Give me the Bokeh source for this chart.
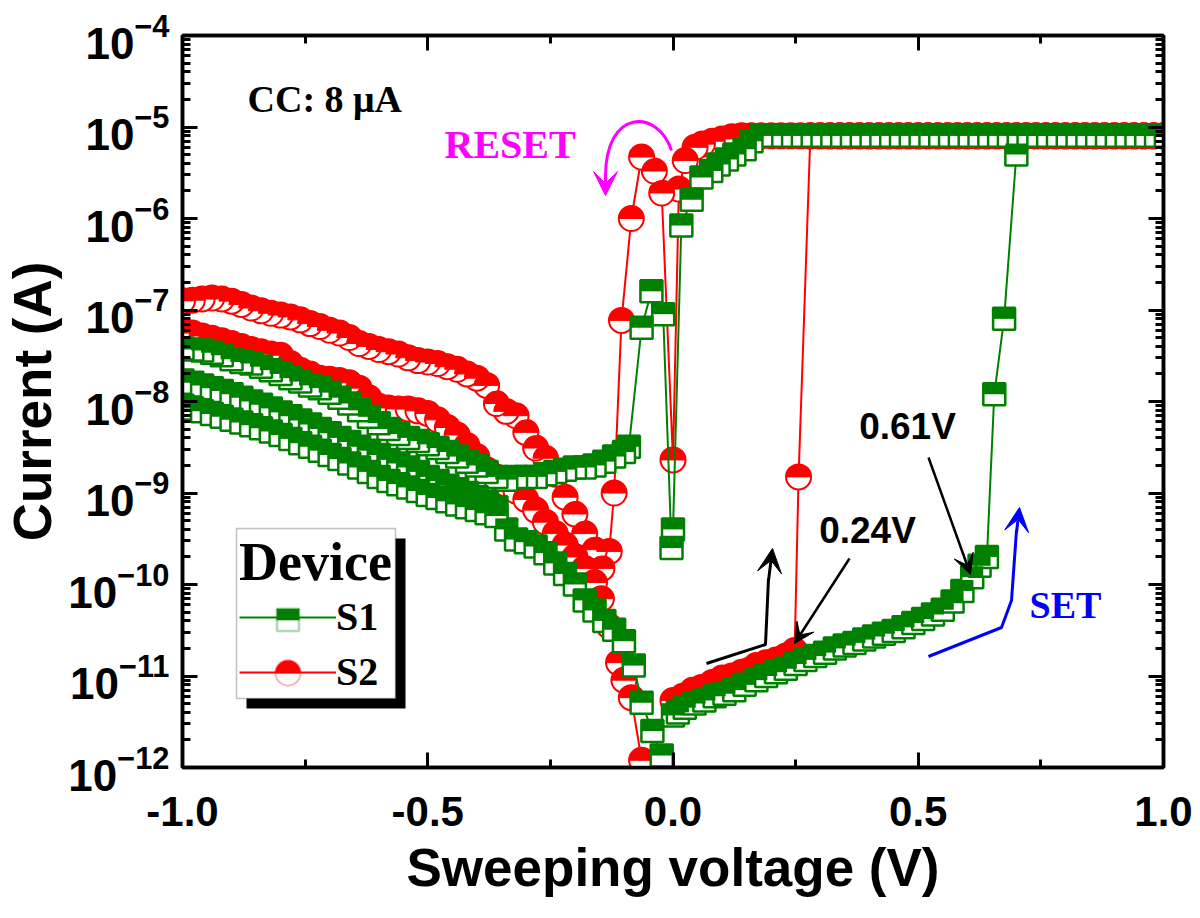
import numpy as np
from bokeh.plotting import figure
from bokeh.models import (Range1d, LinearAxis, LogAxis, FixedTicker, NumeralTickFormatter,
                          Legend, LegendItem, Label, Arrow, VeeHead, BoxAnnotation, PolyAnnotation)
from bokeh.embed import file_html
from bokeh.resources import INLINE

GREEN = "#008000"
RED = "#FF0000"
MAGENTA = "#FF00FF"
BLUE = "#0000FF"
NAN = float("nan")

# ---------------- data ----------------
# Device S1 : positive forward sweep 0 -> 1 V
s1_pos_fwd_v = [0.000, 0.010, 0.024, 0.044, 0.064, 0.085, 0.105, 0.125, 0.146,
                0.170, 0.190, 0.210, 0.230, 0.250, 0.270, 0.290, 0.310, 0.330, 0.350, 0.370,
                0.390, 0.410, 0.430, 0.450, 0.470, 0.490, 0.510, 0.530, 0.550, 0.570, 0.590, 0.610,
                0.625, 0.640, 0.655, 0.675, 0.700,
                0.720, 0.740, 0.760, 0.780, 0.800, 0.820, 0.840, 0.860, 0.880, 0.900, 0.920,
                0.940, 0.960, 0.980, 1.000]
s1_pos_fwd_i = [3.7e-12, 4.0e-12, 4.5e-12, 5.0e-12, 5.4e-12, 6.0e-12, 6.4e-12, 7.0e-12, 8.0e-12,
                9.0e-12, 1.0e-11, 1.1e-11, 1.2e-11, 1.35e-11, 1.5e-11, 1.65e-11, 1.8e-11, 2.0e-11,
                2.15e-11, 2.3e-11, 2.5e-11, 2.7e-11, 2.9e-11, 3.1e-11, 3.4e-11, 3.8e-11, 4.2e-11,
                4.7e-11, 5.3e-11, 6.5e-11, 8.5e-11, 1.2e-10,
                1.6e-10, 2.0e-10, 1.2e-8, 8.0e-8, 5.0e-6,
                8e-6, 8e-6, 8e-6, 8e-6, 8e-6, 8e-6, 8e-6, 8e-6, 8e-6, 8e-6, 8e-6, 8e-6,
                8e-6, 8e-6, 8e-6]
# S1 : positive backward sweep 1 -> 0 V
s1_pos_bwd_v = [1.00, 0.98, 0.96, 0.94, 0.92, 0.90, 0.88, 0.86, 0.84, 0.82, 0.80, 0.78, 0.76, 0.74,
                0.72, 0.70, 0.68, 0.66, 0.64, 0.62, 0.60, 0.58, 0.56, 0.54, 0.52, 0.50, 0.48, 0.46,
                0.44, 0.42, 0.40, 0.38, 0.36, 0.34, 0.32, 0.30, 0.28, 0.26, 0.24, 0.22, 0.20, 0.18,
                0.160, 0.146, 0.125, 0.110, 0.093, 0.078, 0.058, 0.038, 0.017, 0.000]
s1_pos_bwd_i = [8e-6, 8e-6, 8e-6, 8e-6, 8e-6, 8e-6, 8e-6, 8e-6, 8e-6, 8e-6, 8e-6, 8e-6, 8e-6, 8e-6,
                8e-6, 8e-6, 8e-6, 8e-6, 8e-6, 8e-6, 8e-6, 8e-6, 8e-6, 8e-6, 8e-6, 8e-6, 8e-6, 8e-6,
                8e-6, 8e-6, 8e-6, 8e-6, 8e-6, 8e-6, 8e-6, 8e-6, 8e-6, 8e-6, 8e-6, 8e-6, 8e-6, 8e-6,
                7.0e-6, 5.7e-6, 5.0e-6, 4.4e-6, 3.9e-6, 3.3e-6, 2.8e-6, 1.6e-6, 8.4e-7, 4.0e-10]
# S1 : negative forward sweep 0 -> -1 V (RESET)
s1_neg_fwd_v = [-0.003, -0.020, -0.044, -0.064, -0.090,
                -0.10, -0.12, -0.14, -0.16, -0.18, -0.20, -0.22, -0.24, -0.26, -0.28,
                -0.30, -0.32, -0.34, -0.36, -0.38, -0.40, -0.42, -0.44, -0.46, -0.48,
                -0.50, -0.52, -0.54, -0.56, -0.58, -0.60, -0.62, -0.64, -0.66, -0.68,
                -0.70, -0.72, -0.74, -0.76, -0.78, -0.80, -0.82, -0.84, -0.86, -0.88,
                -0.90, -0.92, -0.94, -0.96, -0.98, -1.00]
s1_neg_fwd_i = [2.5e-10, 9.0e-8, 1.6e-7, 6.4e-8, 3.2e-9,
                2.8e-9, 2.5e-9, 2.2e-9, 2.0e-9, 1.9e-9, 1.9e-9, 1.8e-9, 1.7e-9, 1.6e-9, 1.5e-9,
                1.5e-9, 1.5e-9, 1.4e-9, 1.5e-9, 1.7e-9, 2.0e-9, 2.2e-9, 2.5e-9, 2.8e-9, 3.1e-9,
                3.4e-9, 3.7e-9, 4.0e-9, 4.4e-9, 5.0e-9, 5.8e-9, 6.8e-9, 8.0e-9, 9.5e-9, 1.1e-8,
                1.25e-8, 1.4e-8, 1.5e-8, 1.65e-8, 1.8e-8, 2.0e-8, 2.2e-8, 2.4e-8, 2.6e-8, 2.7e-8,
                2.9e-8, 3.2e-8, 3.4e-8, 3.6e-8, 3.7e-8, 3.8e-8]
# S1 : negative backward sweep -1 -> 0 V
s1_neg_bwd_v = [-1.00, -0.98, -0.96, -0.94, -0.92, -0.90, -0.88, -0.86, -0.84, -0.82,
                -0.80, -0.78, -0.76, -0.74, -0.72, -0.70, -0.68, -0.66, -0.64, -0.62,
                -0.60, -0.58, -0.56, -0.54, -0.52, -0.50, -0.48, -0.46, -0.44, -0.42,
                -0.40, -0.38, -0.36, -0.34, -0.32, -0.30, -0.28, -0.26, -0.24, -0.22,
                -0.20, -0.18, -0.16, -0.14, -0.12, -0.10, -0.08, -0.064, -0.042, -0.023]
s1_neg_bwd_i = [1.7e-8, 1.6e-8, 1.5e-8, 1.4e-8, 1.3e-8, 1.2e-8, 1.1e-8, 1.0e-8, 9.2e-9, 8.4e-9,
                7.6e-9, 6.9e-9, 6.2e-9, 5.6e-9, 5.0e-9, 4.5e-9, 4.0e-9, 3.6e-9, 3.2e-9, 2.9e-9,
                2.6e-9, 2.3e-9, 2.1e-9, 1.9e-9, 1.7e-9, 1.5e-9, 1.35e-9, 1.2e-9, 1.1e-9, 1.0e-9,
                9.0e-10, 8.0e-10, 7.0e-10, 4.0e-10, 3.1e-10, 2.9e-10, 2.6e-10, 2.2e-10, 1.7e-10, 1.3e-10,
                1.0e-10, 6.7e-11, 5.2e-11, 4.0e-11, 3.2e-11, 2.4e-11, 1.3e-11, 5.1e-12, 2.5e-12, 1.35e-12]
# S1 : second negative-branch trace
s1_neg_b2_v = [-1.00, -0.98, -0.96, -0.94, -0.92, -0.90, -0.88, -0.86, -0.84, -0.82,
               -0.80, -0.78, -0.76, -0.74, -0.72, -0.70, -0.68, -0.66, -0.64, -0.62,
               -0.60, -0.58, -0.56, -0.54, -0.52, -0.50, -0.48, -0.46, -0.44, -0.42,
               -0.40, -0.38, -0.36]
s1_neg_b2_i = [9.0e-9, 8.4e-9, 7.8e-9, 7.3e-9, 6.8e-9, 6.3e-9, 5.9e-9, 5.5e-9, 5.1e-9, 4.7e-9,
               4.3e-9, 3.9e-9, 3.5e-9, 3.2e-9, 2.9e-9, 2.6e-9, 2.35e-9, 2.1e-9, 1.9e-9, 1.7e-9,
               1.5e-9, 1.35e-9, 1.25e-9, 1.15e-9, 1.05e-9, 9.5e-10, 8.8e-10, 8.1e-10, 7.5e-10, 7.0e-10,
               6.5e-10, 6.0e-10, 5.6e-10]

# Device S2 : positive forward sweep 0 -> 1 V
s2_pos_fwd_v = [0.000, 0.020, 0.040, 0.058, 0.080, 0.100, 0.120, 0.140, 0.154, 0.170, 0.190,
                0.210, 0.230, 0.248, 0.256,
                0.28, 0.30, 0.32, 0.34, 0.36, 0.38, 0.40, 0.42, 0.44, 0.46, 0.48, 0.50, 0.52,
                0.54, 0.56, 0.58, 0.60, 0.62, 0.64, 0.66, 0.68, 0.70, 0.72, 0.74, 0.76, 0.78,
                0.80, 0.82, 0.84, 0.86, 0.88, 0.90, 0.92, 0.94, 0.96, 0.98, 1.00]
s2_pos_fwd_i = [5.4e-12, 6.0e-12, 7.0e-12, 7.5e-12, 8.5e-12, 9.5e-12, 1.0e-11, 1.1e-11, 1.15e-11,
                1.3e-11, 1.4e-11, 1.5e-11, 1.65e-11, 1.9e-11, 1.5e-9,
                8e-6, 8e-6, 8e-6, 8e-6, 8e-6, 8e-6, 8e-6, 8e-6, 8e-6, 8e-6, 8e-6, 8e-6, 8e-6,
                8e-6, 8e-6, 8e-6, 8e-6, 8e-6, 8e-6, 8e-6, 8e-6, 8e-6, 8e-6, 8e-6, 8e-6, 8e-6,
                8e-6, 8e-6, 8e-6, 8e-6, 8e-6, 8e-6, 8e-6, 8e-6, 8e-6, 8e-6, 8e-6]
# S2 : positive backward sweep 1 -> 0 V
s2_pos_bwd_v = [1.00, 0.98, 0.96, 0.94, 0.92, 0.90, 0.88, 0.86, 0.84, 0.82, 0.80, 0.78, 0.76, 0.74,
                0.72, 0.70, 0.68, 0.66, 0.64, 0.62, 0.60, 0.58, 0.56, 0.54, 0.52, 0.50, 0.48, 0.46,
                0.44, 0.42, 0.40, 0.38, 0.36, 0.34, 0.32, 0.30, 0.28, 0.26, 0.24, 0.22, 0.20, 0.18,
                0.16, 0.14, 0.120, 0.100, 0.080, 0.060, 0.045, 0.025, 0.012, 0.000]
s2_pos_bwd_i = [8e-6, 8e-6, 8e-6, 8e-6, 8e-6, 8e-6, 8e-6, 8e-6, 8e-6, 8e-6, 8e-6, 8e-6, 8e-6, 8e-6,
                8e-6, 8e-6, 8e-6, 8e-6, 8e-6, 8e-6, 8e-6, 8e-6, 8e-6, 8e-6, 8e-6, 8e-6, 8e-6, 8e-6,
                8e-6, 8e-6, 8e-6, 8e-6, 8e-6, 8e-6, 8e-6, 8e-6, 8e-6, 8e-6, 8e-6, 8e-6, 8e-6, 8e-6,
                8e-6, 8e-6, 7.8e-6, 7.4e-6, 7.0e-6, 6.5e-6, 6.0e-6, 4.3e-6, 2.1e-6, 2.3e-9]
# S2 : negative forward sweep 0 -> -1 V (RESET)
s2_neg_fwd_v = [-0.023, -0.038, -0.064, -0.085, -0.105, -0.120, -0.130, -0.145, -0.160, -0.180,
                -0.200, -0.220,
                -0.24, -0.26, -0.28, -0.30, -0.32, -0.34, -0.36, -0.38, -0.40, -0.42,
                -0.44, -0.46, -0.48, -0.50, -0.52, -0.54, -0.56, -0.58, -0.60, -0.62,
                -0.64, -0.66, -0.68, -0.70, -0.72, -0.74, -0.76, -0.78, -0.80, -0.82,
                -0.84, -0.86, -0.88, -0.90, -0.92, -0.94, -0.96, -0.98, -1.00]
s2_neg_fwd_i = [1.9e-6, 3.3e-6, 4.7e-6, 1.0e-6, 7.7e-8, 1.0e-9, 2.3e-10, 1.5e-10, 2.4e-10, 3.6e-10,
                5.9e-10, 9.0e-10,
                1.6e-9, 2.4e-9, 3.1e-9, 4.6e-9, 7.0e-9, 7.8e-9, 9.5e-9, 1.5e-8, 1.8e-8, 2.0e-8,
                2.25e-8, 2.4e-8, 2.6e-8, 2.7e-8, 2.8e-8, 3.0e-8, 3.3e-8, 3.5e-8, 3.7e-8, 4.0e-8,
                4.3e-8, 5.0e-8, 5.6e-8, 6.0e-8, 6.6e-8, 7.1e-8, 7.8e-8, 8.4e-8, 8.8e-8, 9.2e-8,
                9.8e-8, 1.05e-7, 1.15e-7, 1.25e-7, 1.32e-7, 1.35e-7, 1.32e-7, 1.28e-7, 1.26e-7]
# S2 : negative backward sweep -1 -> 0 V
s2_neg_bwd_v = [-1.00, -0.98, -0.96, -0.94, -0.92, -0.90, -0.88, -0.86, -0.84, -0.82,
                -0.80, -0.78, -0.76, -0.74, -0.72, -0.70, -0.68, -0.66, -0.64, -0.62,
                -0.60, -0.58, -0.56, -0.54, -0.52, -0.50, -0.48, -0.46, -0.44, -0.42,
                -0.40, -0.38, -0.36, -0.34, -0.32, -0.30, -0.28, -0.26, -0.24, -0.22,
                -0.20, -0.18, -0.16, -0.146, -0.130, -0.111, -0.100, -0.085, -0.064]
s2_neg_bwd_i = [6.0e-8, 5.6e-8, 5.2e-8, 4.9e-8, 4.6e-8, 4.3e-8, 4.0e-8, 3.7e-8, 3.5e-8, 3.3e-8,
                3.2e-8, 2.6e-8, 2.2e-8, 2.0e-8, 1.8e-8, 1.75e-8, 1.7e-8, 1.6e-8, 1.4e-8, 1.1e-8,
                8.9e-9, 8.5e-9, 8.3e-9, 8.3e-9, 7.9e-9, 7.4e-9, 6.3e-9, 5.2e-9, 4.3e-9, 3.3e-9,
                2.5e-9, 1.8e-9, 1.5e-9, 1.25e-9, 1.05e-9, 8.5e-10, 6.5e-10, 4.8e-10, 3.6e-10, 2.7e-10,
                2.0e-10, 1.5e-10, 1.05e-10, 7.0e-11, 3.5e-11, 1.4e-11, 9.0e-12, 5.8e-12, 1.2e-12]

x_major = [-1.0, -0.5, 0.0, 0.5, 1.0]
x_minor = [-0.75, -0.25, 0.25, 0.75]
y_exponents = [-12, -11, -10, -9, -8, -7, -6, -5, -4]
y_mantissas = [2, 3, 4, 5, 6, 7, 8, 9]

s1_v = s1_pos_fwd_v + s1_pos_bwd_v + s1_neg_fwd_v + s1_neg_bwd_v + [NAN] + s1_neg_b2_v
s1_i = s1_pos_fwd_i + s1_pos_bwd_i + s1_neg_fwd_i + s1_neg_bwd_i + [NAN] + s1_neg_b2_i
s2_v = s2_pos_fwd_v + s2_pos_bwd_v + s2_neg_fwd_v + s2_neg_bwd_v
s2_i = s2_pos_fwd_i + s2_pos_bwd_i + s2_neg_fwd_i + s2_neg_bwd_i

# ---------------- figure ----------------
FW, FH = 981, 732
PX0, PY0 = 181, 35          # page position of the frame's top-left corner


def dx(px):   # page pixel -> data x (annotation placement only)
    return -1.0 + 2.0 * (px - PX0) / FW


def dy(py):   # page pixel -> data y (log)
    return 10 ** (-12 + 8.0 * (PY0 + FH - py) / FH)


p = figure(frame_width=FW, frame_height=FH,
           x_range=Range1d(-1, 1), y_range=Range1d(1e-12, 1e-4),
           y_axis_type="log", output_backend="svg", toolbar_location=None,
           min_border_left=173, min_border_top=35, min_border_right=30, min_border_bottom=125,
           background_fill_color="white", border_fill_color="white")
p.grid.visible = False
p.outline_line_color = "black"
p.outline_line_width = 3.5

y_minor = [m * 10.0 ** e for e in y_exponents[:-1] for m in y_mantissas]
y_major = [10.0 ** e for e in y_exponents]


def style_axis(ax, labels=True):
    ax.axis_line_width = 3.5
    ax.axis_line_color = "black"
    ax.major_tick_in = 15
    ax.major_tick_out = 0
    ax.minor_tick_in = 8
    ax.minor_tick_out = 0
    ax.major_tick_line_width = 3
    ax.minor_tick_line_width = 3
    ax.major_label_text_font = "Liberation Sans"
    ax.major_label_text_font_style = "bold"
    ax.major_label_text_color = "black"
    ax.axis_label_text_color = "black"
    if not labels:
        ax.major_label_text_font_size = "0px"
        ax.major_label_text_alpha = 0


xa = p.xaxis[0]
xa.ticker = FixedTicker(ticks=x_major, minor_ticks=x_minor)
xa.formatter = NumeralTickFormatter(format="0.0")
style_axis(xa)
xa.major_label_text_font_size = "42px"
xa.major_label_standoff = 29
xa.axis_label = "Sweeping voltage (V)"
xa.axis_label_text_font = "Liberation Sans"
xa.axis_label_text_font_style = "bold"
xa.axis_label_text_font_size = "53px"
xa.axis_label_standoff = 9

ya = p.yaxis[0]
ya.ticker = FixedTicker(ticks=y_major, minor_ticks=y_minor)
style_axis(ya)
ya.major_label_text_font_size = "44px"
ya.major_label_standoff = 13
ya.axis_label = "Current (A)"
ya.axis_label_text_font = "Liberation Sans"
ya.axis_label_text_font_style = "bold"
ya.axis_label_text_font_size = "53px"
ya.axis_label_standoff = 3

top = LinearAxis(ticker=FixedTicker(ticks=x_major, minor_ticks=x_minor))
style_axis(top, labels=False)
p.add_layout(top, "above")
right = LogAxis(ticker=FixedTicker(ticks=y_major, minor_ticks=y_minor))
style_axis(right, labels=False)
p.add_layout(right, "right")

# ---------------- series (S2 first, S1 drawn over it) ----------------
s2_line = p.line(s2_v, s2_i, line_color=RED, line_width=2)
p.scatter(s2_v, s2_i, marker="circle", size=25, fill_color="white", line_color=RED, line_width=2)
p.wedge(s2_v, s2_i, radius=12.5, radius_units="screen", start_angle=0, end_angle=np.pi,
        fill_color=RED, line_color=RED, line_width=1)

s1_line = p.line(s1_v, s1_i, line_color=GREEN, line_width=2)
p.scatter(s1_v, s1_i, marker="square", size=22, fill_color="white", line_color=GREEN, line_width=2.5)
p.ray(s1_v, s1_i, length=11, length_units="screen", angle=np.pi / 2,
      line_color=GREEN, line_width=22)

# ---------------- legend ----------------
# box + drop shadow + half-filled symbols (drawn underneath the transparent legend)
p.add_layout(BoxAnnotation(left=dx(245), right=dx(404), top=dy(538), bottom=dy(708),
                           fill_color="black", fill_alpha=1.0, line_alpha=0))
p.add_layout(BoxAnnotation(left=dx(235), right=dx(394), top=dy(528), bottom=dy(698),
                           fill_color="white", fill_alpha=1.0, line_color="#333333", line_width=1.5))
LGX, LG1, LG2 = 286.5, 619.5, 672.5
p.add_layout(BoxAnnotation(left=dx(LGX - 11), right=dx(LGX + 11), top=dy(LG1 - 11), bottom=dy(LG1 + 11),
                           fill_color="white", fill_alpha=1.0, line_color=GREEN, line_width=2.5))
p.add_layout(BoxAnnotation(left=dx(LGX - 11), right=dx(LGX + 11), top=dy(LG1 - 11), bottom=dy(LG1),
                           fill_color=GREEN, fill_alpha=1.0, line_color=GREEN, line_width=2.5))
ang_full = np.linspace(0, 2 * np.pi, 61)
ang_half = np.linspace(0, np.pi, 31)
p.add_layout(PolyAnnotation(xs=[dx(LGX + 12.5 * np.cos(t)) for t in ang_full],
                            ys=[dy(LG2 - 12.5 * np.sin(t)) for t in ang_full],
                            fill_color="white", fill_alpha=1.0, line_color=RED, line_width=2))
p.add_layout(PolyAnnotation(xs=[dx(LGX + 12.5 * np.cos(t)) for t in ang_half],
                            ys=[dy(LG2 - 12.5 * np.sin(t)) for t in ang_half],
                            fill_color=RED, fill_alpha=1.0, line_color=RED, line_width=2))

legend = Legend(items=[LegendItem(label="S1", renderers=[s1_line]),
                       LegendItem(label="S2", renderers=[s2_line])],
                location=(54, 69), title="Device",
                title_text_font="Liberation Serif", title_text_font_style="bold",
                title_text_font_size="54px", title_text_color="black", title_standoff=0,
                label_text_font="Liberation Serif", label_text_font_style="bold",
                label_text_font_size="40px", label_text_color="black", label_height=40,
                glyph_width=97, glyph_height=40, label_standoff=0, padding=3, spacing=8,
                margin=0, border_line_color="black", border_line_alpha=0.0,
                background_fill_alpha=0.0)
p.add_layout(legend)

# ---------------- annotations ----------------
def label(px, py, text, font, size, color="black", align="left"):
    p.add_layout(Label(x=dx(px), y=dy(py), text=text, text_font=font, text_font_style="bold",
                       text_font_size=size, text_color=color, text_align=align,
                       text_baseline="middle"))


label(246, 98, "CC: 8 μA", "Liberation Serif", "38px")
label(443, 144, "RESET", "Liberation Serif", "40px", MAGENTA)
label(1028, 604, "SET", "Liberation Serif", "38px", BLUE)
label(866, 530, "0.24V", "Liberation Sans", "37px", align="center")
label(906, 426, "0.61V", "Liberation Sans", "37px", align="center")

# RESET curved arrow
p.bezier(x0=[dx(670)], y0=[dy(150)], x1=[dx(604)], y1=[dy(176)],
         cx0=[dx(656)], cy0=[dy(108)], cx1=[dx(604)], cy1=[dy(108)],
         line_color=MAGENTA, line_width=3)
p.add_layout(Arrow(end=VeeHead(size=24, fill_color=MAGENTA, line_color=MAGENTA),
                   x_start=dx(604), y_start=dy(172), x_end=dx(604), y_end=dy(195),
                   line_color=MAGENTA, line_width=3))

# black bent arrow (S2 SET)
p.line([dx(705), dx(764), dx(767)], [dy(663), dy(644), dy(578)], line_color="black", line_width=3)
p.add_layout(Arrow(end=VeeHead(size=24, fill_color="black", line_color="black"),
                   x_start=dx(767), y_start=dy(580), x_end=dx(771), y_end=dy(548),
                   line_color="black", line_width=3))

# blue bent arrow (S1 SET)
p.line([dx(927), dx(1000), dx(1010), dx(1015)], [dy(656), dy(627), dy(600), dy(530)],
       line_color=BLUE, line_width=3)
p.add_layout(Arrow(end=VeeHead(size=24, fill_color=BLUE, line_color=BLUE),
                   x_start=dx(1015), y_start=dy(532), x_end=dx(1018), y_end=dy(507),
                   line_color=BLUE, line_width=3))

# pointer arrows to the SET voltages
p.add_layout(Arrow(end=VeeHead(size=20, fill_color="black", line_color="black"),
                   x_start=dx(848), y_start=dy(558), x_end=dx(793), y_end=dy(643),
                   line_color="black", line_width=2.5))
p.add_layout(Arrow(end=VeeHead(size=20, fill_color="black", line_color="black"),
                   x_start=dx(927), y_start=dy(457), x_end=dx(969), y_end=dy(574),
                   line_color="black", line_width=2.5))

with open("out.html", "w") as f:
    f.write(file_html(p, INLINE))
